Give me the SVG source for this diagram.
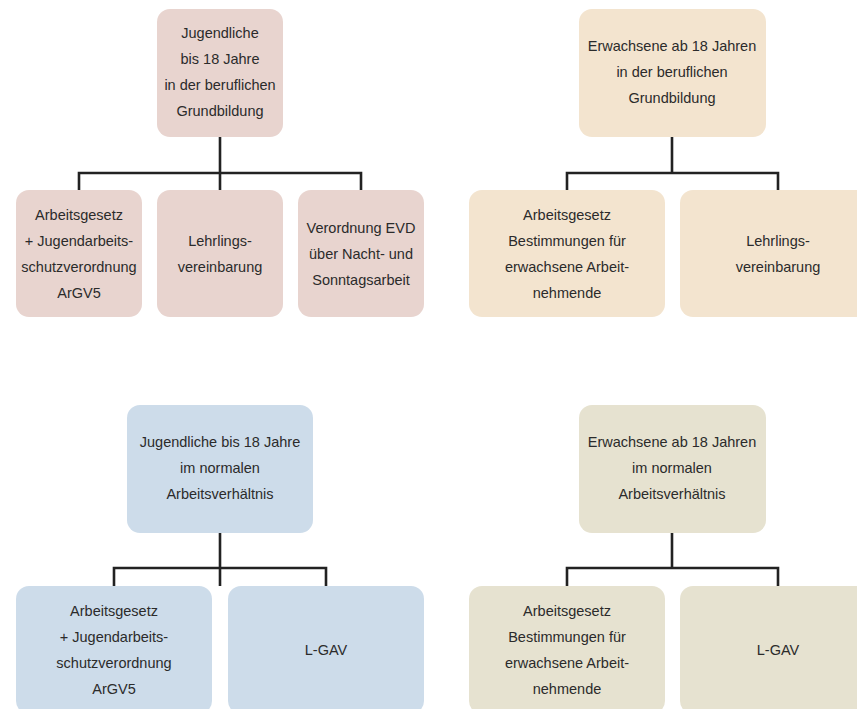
<svg xmlns="http://www.w3.org/2000/svg" width="857" height="709" viewBox="0 0 857 709">
<style>
text{font-family:"Liberation Sans",Arial,sans-serif;font-size:14.5px;fill:#2b2b2b;text-anchor:middle}
.pk{fill:#e8d4cf}
.tn{fill:#f3e4cf}
.bl{fill:#cddcea}
.bg{fill:#e6e2d0}
.c path{fill:none;stroke:#222;stroke-width:2.6}
</style>
<rect width="857" height="709" fill="#fff"/>
<g class="c" id="connectors">
<path d="M220 137V190M79 190V173H361V190"/>
<path d="M672 137V173M567 190V173H778V190"/>
<path d="M220 533V586M114 586V568H326V586"/>
<path d="M672 533V568M567 586V568H778V586"/>
</g>
<g id="n1"><rect class="pk" x="157" y="9" width="126" height="128" rx="13"/>
<text x="220" y="38">Jugendliche</text><text x="220" y="64">bis 18 Jahre</text><text x="220" y="90">in der beruflichen</text><text x="220" y="116">Grundbildung</text></g>
<g id="n2"><rect class="pk" x="16" y="190" width="126" height="127" rx="13"/>
<text x="79" y="220">Arbeitsgesetz</text><text x="79" y="246">+ Jugendarbeits-</text><text x="79" y="272">schutzverordnung</text><text x="79" y="298">ArGV5</text></g>
<g id="n3"><rect class="pk" x="157" y="190" width="126" height="127" rx="13"/>
<text x="220" y="246">Lehrlings-</text><text x="220" y="272">vereinbarung</text></g>
<g id="n4"><rect class="pk" x="298" y="190" width="126" height="127" rx="13"/>
<text x="361" y="233">Verordnung EVD</text><text x="361" y="259">über Nacht- und</text><text x="361" y="285">Sonntagsarbeit</text></g>
<g id="n5"><rect class="tn" x="579" y="9" width="187" height="128" rx="13"/>
<text x="672" y="51">Erwachsene ab 18 Jahren</text><text x="672" y="77">in der beruflichen</text><text x="672" y="103">Grundbildung</text></g>
<g id="n6"><rect class="tn" x="469" y="190" width="196" height="127" rx="13"/>
<text x="567" y="220">Arbeitsgesetz</text><text x="567" y="246">Bestimmungen für</text><text x="567" y="272">erwachsene Arbeit-</text><text x="567" y="298">nehmende</text></g>
<g id="n7"><rect class="tn" x="680" y="190" width="196" height="127" rx="13"/>
<text x="778" y="246">Lehrlings-</text><text x="778" y="272">vereinbarung</text></g>
<g id="n8"><rect class="bl" x="127" y="405" width="186" height="128" rx="13"/>
<text x="220" y="447">Jugendliche bis 18 Jahre</text><text x="220" y="473">im normalen</text><text x="220" y="499">Arbeitsverhältnis</text></g>
<g id="n9"><rect class="bl" x="16" y="586" width="196" height="128" rx="13"/>
<text x="114" y="616">Arbeitsgesetz</text><text x="114" y="642">+ Jugendarbeits-</text><text x="114" y="668">schutzverordnung</text><text x="114" y="694">ArGV5</text></g>
<g id="n10"><rect class="bl" x="228" y="586" width="196" height="128" rx="13"/>
<text x="326" y="655">L-GAV</text></g>
<g id="n11"><rect class="bg" x="579" y="405" width="187" height="128" rx="13"/>
<text x="672" y="447">Erwachsene ab 18 Jahren</text><text x="672" y="473">im normalen</text><text x="672" y="499">Arbeitsverhältnis</text></g>
<g id="n12"><rect class="bg" x="469" y="586" width="196" height="128" rx="13"/>
<text x="567" y="616">Arbeitsgesetz</text><text x="567" y="642">Bestimmungen für</text><text x="567" y="668">erwachsene Arbeit-</text><text x="567" y="694">nehmende</text></g>
<g id="n13"><rect class="bg" x="680" y="586" width="196" height="128" rx="13"/>
<text x="778" y="655">L-GAV</text></g>
</svg>
